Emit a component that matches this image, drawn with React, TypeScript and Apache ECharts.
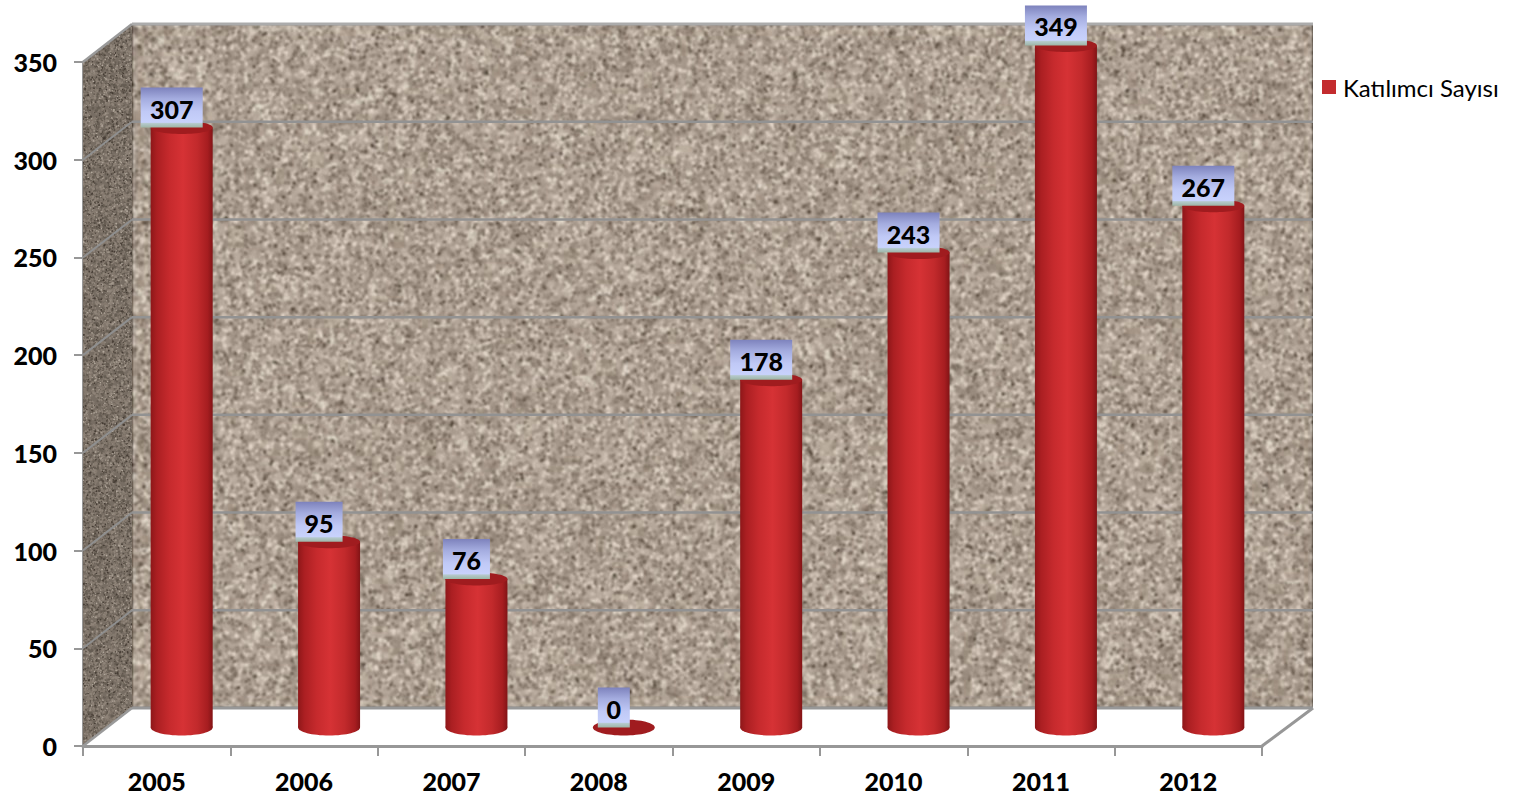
import React, { useEffect, useRef } from "react";
import * as echarts from "echarts";

const categories = ["2005", "2006", "2007", "2008", "2009", "2010", "2011", "2012"];
const participants = [307, 95, 76, 0, 178, 243, 349, 267];
const yTicks = [50, 100, 150, 200, 250, 300, 350];
const seriesName = "Katılımcı Sayısı";

const DX = 49;
const DY = 38;
const DX_RIGHT = 51;
const FONT = "Lato";

function makeRng(seed: number) {
  let s = seed >>> 0;
  return () => {
    s = (Math.imul(s, 1664525) + 1013904223) >>> 0;
    return s / 4294967296;
  };
}

function speckle(
  ctx: CanvasRenderingContext2D,
  w: number,
  h: number,
  seed: number,
  layers: { colors: string[]; density: number; min: number; max: number }[]
) {
  const rng = makeRng(seed);
  layers.forEach((l) => {
    const n = Math.round(w * h * l.density);
    for (let i = 0; i < n; i++) {
      ctx.fillStyle = l.colors[Math.floor(rng() * l.colors.length)];
      ctx.beginPath();
      ctx.ellipse(
        rng() * w,
        rng() * h,
        l.min + rng() * (l.max - l.min),
        l.min + rng() * (l.max - l.min),
        rng() * 3.14,
        0,
        6.283
      );
      ctx.fill();
    }
  });
}

function backWallTexture(w: number, h: number) {
  const raw = document.createElement("canvas");
  raw.width = w;
  raw.height = h;
  const c = raw.getContext("2d")!;
  c.fillStyle = "#ab9d8f";
  c.fillRect(0, 0, w, h);
  speckle(c, w, h, 1234, [
    { colors: ["#bcae9f", "#9a8c7d", "#b4a698", "#a39486"], density: 0.09, min: 1.8, max: 4.0 },
    { colors: ["#d8cfc1", "#ccc1b2", "#e2dacd"], density: 0.03, min: 1.0, max: 2.4 },
    { colors: ["#7d6f62", "#716357", "#86786b"], density: 0.024, min: 0.9, max: 2.1 },
    { colors: ["#3f352c", "#4f4439"], density: 0.0035, min: 0.8, max: 1.8 },
  ]);
  const out = document.createElement("canvas");
  out.width = w;
  out.height = h;
  const o = out.getContext("2d")!;
  o.filter = "blur(0.85px)";
  o.drawImage(raw, 0, 0);
  return out.toDataURL("image/jpeg", 0.9);
}

function sideWallTexture(w: number, h: number, dy: number) {
  const raw = document.createElement("canvas");
  raw.width = w;
  raw.height = h;
  const c = raw.getContext("2d")!;
  c.fillStyle = "#776d63";
  c.fillRect(0, 0, w, h);
  speckle(c, w, h, 987, [
    { colors: ["#857a6f", "#665d53", "#8f8479"], density: 0.28, min: 0.7, max: 1.6 },
    { colors: ["#a69c90", "#b3a99d"], density: 0.035, min: 0.4, max: 1.0 },
    { colors: ["#453c34", "#51483f"], density: 0.045, min: 0.4, max: 1.1 },
  ]);
  const out = document.createElement("canvas");
  out.width = w;
  out.height = h;
  const o = out.getContext("2d")!;
  o.beginPath();
  o.moveTo(0, dy);
  o.lineTo(w, 0);
  o.lineTo(w, h - dy);
  o.lineTo(0, h);
  o.closePath();
  o.clip();
  o.filter = "blur(0.5px)";
  o.drawImage(raw, 0, 0);
  return out.toDataURL("image/png");
}

const cylinderFill = {
  type: "linear",
  x: 0,
  y: 0,
  x2: 1,
  y2: 0,
  colorStops: [
    { offset: 0, color: "#8e1719" },
    { offset: 0.1, color: "#ab1f22" },
    { offset: 0.3, color: "#c62a2d" },
    { offset: 0.52, color: "#d63235" },
    { offset: 0.75, color: "#c22a2c" },
    { offset: 0.92, color: "#a61d20" },
    { offset: 1, color: "#821416" },
  ],
};

const labelFill = {
  type: "linear",
  x: 0,
  y: 0,
  x2: 0,
  y2: 1,
  colorStops: [
    { offset: 0, color: "#7d82bc" },
    { offset: 0.28, color: "#a4acdf" },
    { offset: 0.6, color: "#c0c9f6" },
    { offset: 0.87, color: "#c8d2fc" },
    { offset: 0.9, color: "#b5c9cc" },
    { offset: 1, color: "#9db5a6" },
  ],
};

export default function App() {
  const ref = useRef<HTMLDivElement>(null);

  useEffect(() => {
    document.body.style.margin = "0";
    document.body.style.overflow = "hidden";
    const chart = echarts.init(ref.current!, undefined, { renderer: "svg" });

    const backWall = backWallTexture(1181, 684);
    const sideWall = sideWallTexture(49, 722, 38);

    const renderWalls = (params: any, api: any) => {
      const g = params.coordSys;
      const left = g.x;
      const right = g.x + g.width;
      const top = g.y;
      const bottom = g.y + g.height;
      const backLeft = left + DX;
      const backRight = right + DX_RIGHT;
      const line = (x1: number, y1: number, x2: number, y2: number, stroke: string, w: number) => ({
        type: "line",
        shape: { x1, y1, x2, y2 },
        style: { stroke, lineWidth: w },
      });
      const children: any[] = [
        {
          type: "image",
          style: {
            image: backWall,
            x: backLeft,
            y: top - DY,
            width: backRight - backLeft,
            height: g.height,
          },
        },
        {
          type: "image",
          style: {
            image: sideWall,
            x: left,
            y: top - DY,
            width: DX,
            height: g.height + DY,
          },
        },
      ];
      yTicks.slice(0, -1).forEach((t) => {
        const y = api.coord([0, t])[1];
        children.push(line(left, y, backLeft, y - DY, "#8f8f8f", 2));
        children.push(line(backLeft, y - DY, backRight, y - DY, "#929292", 2.5));
      });
      children.push(line(left, top, backLeft, top - DY, "#9a9a9a", 2.5));
      children.push(line(backLeft, top - DY, backRight, top - DY, "#ababab", 3));
      children.push(line(left, bottom, backLeft, bottom - DY, "#9a9a9a", 2.5));
      children.push(line(backLeft, bottom - DY, backRight, bottom - DY, "#979797", 3));
      children.push(line(right, bottom, backRight, bottom - DY, "#979797", 3));
      return { type: "group", children };
    };

    const renderCylinder = (_params: any, api: any) => {
      const idx = api.value(0);
      const val = api.value(1);
      const base = api.coord([idx, 0]);
      const topPt = api.coord([idx, val]);
      const cx = base[0] + DX / 2 + 0.5;
      const by = base[1] - DY / 2 + 0.5;
      const ty = topPt[1] - DY / 2 + 0.5;
      const rx = 31;
      const ry = 8;
      const text = String(val);
      const boxW = 17 + 15 * text.length;
      const boxH = 40;
      const boxCx = cx - 10;
      const children: any[] = [];
      if (val > 0) {
        children.push({
          type: "ellipse",
          shape: { cx, cy: by, rx, ry },
          style: { fill: cylinderFill },
        });
        children.push({
          type: "rect",
          shape: { x: cx - rx, y: ty, width: rx * 2, height: by - ty },
          style: { fill: cylinderFill },
        });
      }
      children.push({
        type: "ellipse",
        shape: { cx, cy: ty, rx, ry: val > 0 ? 6.5 : ry },
        style: { fill: "#a01c1f" },
      });
      children.push({
        type: "rect",
        shape: { x: boxCx - boxW / 2, y: ty - boxH, width: boxW, height: boxH },
        style: { fill: labelFill },
      });
      children.push({
        type: "text",
        style: {
          text,
          x: boxCx,
          y: ty - boxH / 2 + 1,
          textAlign: "center",
          textVerticalAlign: "middle",
          fontFamily: FONT,
          fontWeight: 900,
          fontSize: 25,
          fill: "#000",
        },
      });
      return { type: "group", children };
    };

    chart.setOption({
      animation: false,
      backgroundColor: "#ffffff",
      textStyle: { fontFamily: FONT },
      grid: { left: 83, right: 261, top: 62, bottom: 49 },
      legend: {
        left: 1317,
        top: 70,
        itemWidth: 14,
        itemHeight: 14,
        itemGap: 0,
        data: [{ name: seriesName, icon: "rect" }],
        textStyle: { fontFamily: FONT, fontSize: 24, color: "#000", padding: [0, 0, 0, 2] },
      },
      xAxis: {
        type: "category",
        data: categories,
        boundaryGap: true,
        axisLine: { show: true, lineStyle: { color: "#979797", width: 3 } },
        axisTick: { show: true, length: 10, alignWithLabel: false, lineStyle: { color: "#979797", width: 2 } },
        axisLabel: { color: "#000", fontFamily: FONT, fontWeight: 900, fontSize: 25, margin: 22 },
        splitLine: { show: false },
      },
      yAxis: {
        type: "value",
        min: 0,
        max: 350,
        interval: 50,
        axisLine: { show: true, lineStyle: { color: "#979797", width: 3 } },
        axisTick: { show: true, length: 9, lineStyle: { color: "#979797", width: 2 } },
        axisLabel: { color: "#000", fontFamily: FONT, fontWeight: 900, fontSize: 25, margin: 26 },
        splitLine: { show: false },
      },
      series: [
        {
          type: "custom",
          name: "walls",
          silent: true,
          z: 1,
          coordinateSystem: "cartesian2d",
          renderItem: renderWalls,
          data: [[0, 0]],
          clip: false,
        },
        {
          type: "custom",
          name: seriesName,
          z: 3,
          coordinateSystem: "cartesian2d",
          renderItem: renderCylinder,
          itemStyle: { color: "#c32b2e" },
          encode: { x: 0, y: 1 },
          data: participants.map((v, i) => [i, v]),
          clip: false,
        },
      ],
    });

    return () => chart.dispose();
  }, []);

  return (
    <div
      ref={ref}
      style={{ position: "absolute", left: 0, top: 0, width: 1523, height: 795 }}
    />
  );
}
